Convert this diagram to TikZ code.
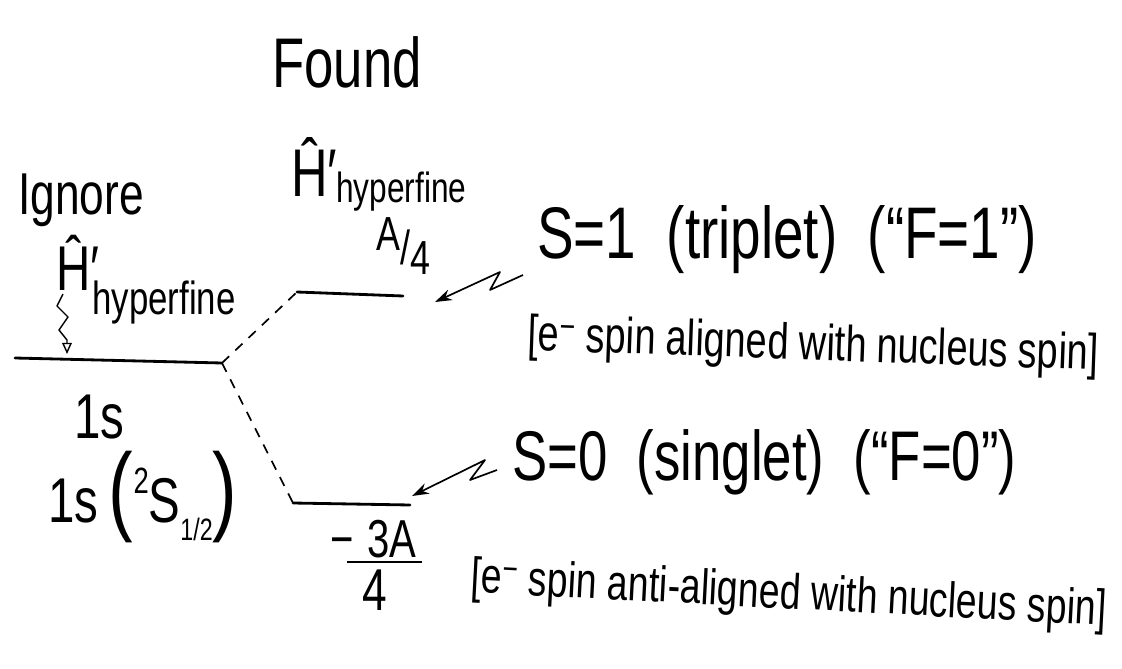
\documentclass[tikz,border=0pt]{standalone}
\usepackage{fontspec}
\setmainfont{Liberation Sans}
\newfontfamily\handfont[FakeStretch=0.75]{Liberation Sans}
\usetikzlibrary{arrows.meta}

\begin{document}
\begin{tikzpicture}[
    x=0.025cm, y=-0.025cm,
    >=Stealth,
    hand/.style={inner sep=0pt, anchor=base west,
        font=\handfont\fontsize{#1}{#1}\selectfont},
    level/.style={line width=2pt, line cap=round},
    split/.style={line width=1.2pt, dash pattern=on 7pt off 6pt},
    pointer/.style={->, >={Stealth[length=12pt,width=8pt]},
        line width=1.2pt, line join=round},
    tick/.style={-{Triangle[open,length=8pt,width=7pt]},
        line width=1pt, line join=round},
]
\useasboundingbox (0,0) rectangle (1122,669);

% ---- levels ----
\coordinate (gl) at (15,358);
\coordinate (gr) at (222,363);
\coordinate (ul) at (297,292);
\coordinate (ur) at (403,296);
\coordinate (ll) at (293,503);
\coordinate (lr) at (410,505);

\draw[level] (gl) -- (gr);
\draw[level] (ul) -- (ur);
\draw[level] (ll) -- (lr);
\draw[split] (gr) -- (ul);
\draw[split] (gr) -- (ll);

% ---- left column: unperturbed ground state ----
\node[hand=42] (ignore) at (18,215) {Ignore};
\node[hand=45] (ignH) at (56,290) {Ĥ′};
\node[hand=33] (ignsub) at (92,314) {hyperfine};
\node[hand=45] (orb) at (74,438) {1s};
\node[hand=45] (term) at (48,522)
    {1s\,{\fontsize{70}{70}\selectfont(}\raisebox{0.45em}{\fontsize{26}{26}\selectfont 2}S\raisebox{-0.3em}{\fontsize{22}{22}\selectfont 1/2}{\fontsize{70}{70}\selectfont)}};

\coordinate (ignfrom) at (63,294);
\coordinate (ignto) at (67,354);
\draw[tick] (ignfrom) -- ++(-6,12) -- ++(11,11) -- ++(-9,13) -- ++(8,10) -- (ignto);

% ---- middle column: split levels ----
\node[hand=50] (found) at (272,88) {Found};
\node[hand=48] (fndH) at (291,197) {Ĥ′};
\node[hand=30] (fndsub) at (336,203) {hyperfine};
\node[hand=34] (quarter) at (376,265)
    {\raisebox{0.3em}{A}/\raisebox{-0.2em}{4}};

\node[hand=38] (m3a) at (330,557) {−\hspace{0.25em}3A};
\node[hand=42] (four) at (362,610) {4};
\coordinate (barl) at (347,562);
\coordinate (barr) at (422,562);
\draw[line width=1.4pt] (barl) -- (barr);

% ---- right column: labels with arrows ----
\node[hand=52] (trip) at (537,258) {S=1\ \ (triplet)\ \ (“F=1”)};
\node[hand=36, rotate=-2] (tripnote) at (527,350)
    {[e\textsuperscript{−} spin aligned with nucleus spin]};
\node[hand=50] (sing) at (512,480) {S=0\ \ (singlet)\ \ (“F=0”)};
\node[hand=35.5, rotate=-3] (singnote) at (470,592)
    {[e\textsuperscript{−} spin anti-aligned with nucleus spin]};

\coordinate (tripend) at (523,275);
\coordinate (tiptop) at (435,302);
\draw[pointer] (tripend) -- ++(-33,15) -- ++(10,-18) -- (tiptop);

\coordinate (singend) at (497,470);
\coordinate (tipbot) at (412,496);
\draw[pointer] (singend) -- ++(-27,10) -- ++(15,-20) -- (tipbot);

\end{tikzpicture}
\end{document}
